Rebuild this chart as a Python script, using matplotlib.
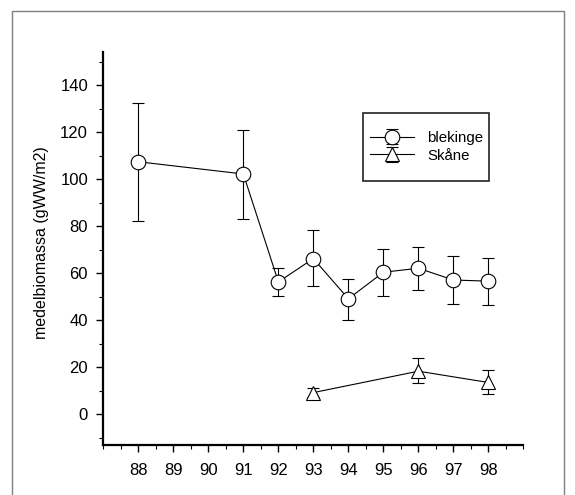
import matplotlib
matplotlib.use("Agg")
import matplotlib.pyplot as plt
from matplotlib.patches import Rectangle
from matplotlib.ticker import MultipleLocator
import numpy as np

plt.rcParams['font.family'] = ['Liberation Sans', 'DejaVu Sans']

# blekinge - mean biomass with error bar ends
blek_year = [88, 91, 92, 93, 94, 95, 96, 97, 98]
blek_mean = [107.5, 102.3, 56.4, 66.3, 49.2, 60.5, 62.2, 57.2, 56.7]
blek_low = [82.3, 83.3, 50.2, 54.5, 40.2, 50.2, 52.8, 46.8, 46.6]
blek_high = [132.5, 121.0, 62.3, 78.5, 57.8, 70.3, 71.3, 67.6, 66.5]

# Skåne
skane_year = [93, 96, 98]
skane_mean = [9.3, 18.4, 13.6]
skane_low = [7.5, 13.2, 8.5]
skane_high = [11.2, 24.1, 19.1]

year_ticks = [88, 89, 90, 91, 92, 93, 94, 95, 96, 97, 98]


def err(mean, low, high):
    mean = np.array(mean)
    return [mean - np.array(low), np.array(high) - mean]


fig = plt.figure(figsize=(5.75, 4.95), dpi=100)
ax = fig.add_axes([0.1797, 0.101, 0.7306, 0.793])

kw = dict(color='black', lw=0.8, elinewidth=0.8, capsize=4, capthick=0.8,
          mfc='white', mec='black', mew=0.8, ms=10.5)
ax.errorbar(blek_year, blek_mean, yerr=err(blek_mean, blek_low, blek_high),
            marker='o', label='blekinge', **kw)
kw['ms'] = 10
ax.errorbar(skane_year, skane_mean, yerr=err(skane_mean, skane_low, skane_high),
            marker='^', label='Skåne', **kw)

ax.set_xlim(87, 99)
ax.set_ylim(-13, 154)
ax.set_xticks(year_ticks)
ax.set_xticklabels([str(y) for y in year_ticks])
ax.xaxis.set_minor_locator(MultipleLocator(0.5))
ax.set_yticks(range(0, 141, 20))
ax.yaxis.set_minor_locator(MultipleLocator(10))
ax.tick_params(which='major', length=5, width=1, labelsize=12, pad=6)
ax.tick_params(which='minor', length=3, width=0.8)
ax.tick_params(axis='x', pad=8)

for s in ['top', 'right']:
    ax.spines[s].set_visible(False)
for s in ['left', 'bottom']:
    ax.spines[s].set_linewidth(1.6)

ax.set_ylabel('medelbiomassa (gWW/m2)', fontsize=11.5)
ax.yaxis.set_label_coords(-0.13, 0.515)

# legend box drawn by hand so the padding can differ per side
ax.add_patch(Rectangle((0.617, 0.672), 0.300, 0.175, transform=ax.transAxes,
                       fill=False, ec='#222222', lw=1.2, clip_on=False))
ax.legend(loc='center left', bbox_to_anchor=(0.61, 0.76), frameon=False,
          fontsize=10.8, handlelength=2.9, handletextpad=0.9, labelspacing=0.25,
          borderpad=0.2)

# outer frame round the figure
fig.patches.append(Rectangle((12 / 575, -0.1), 552 / 575, 1.1 - 11 / 495,
                             transform=fig.transFigure, fill=False,
                             ec='#7f7f7f', lw=1.0))

fig.savefig('out.png', dpi=100)
